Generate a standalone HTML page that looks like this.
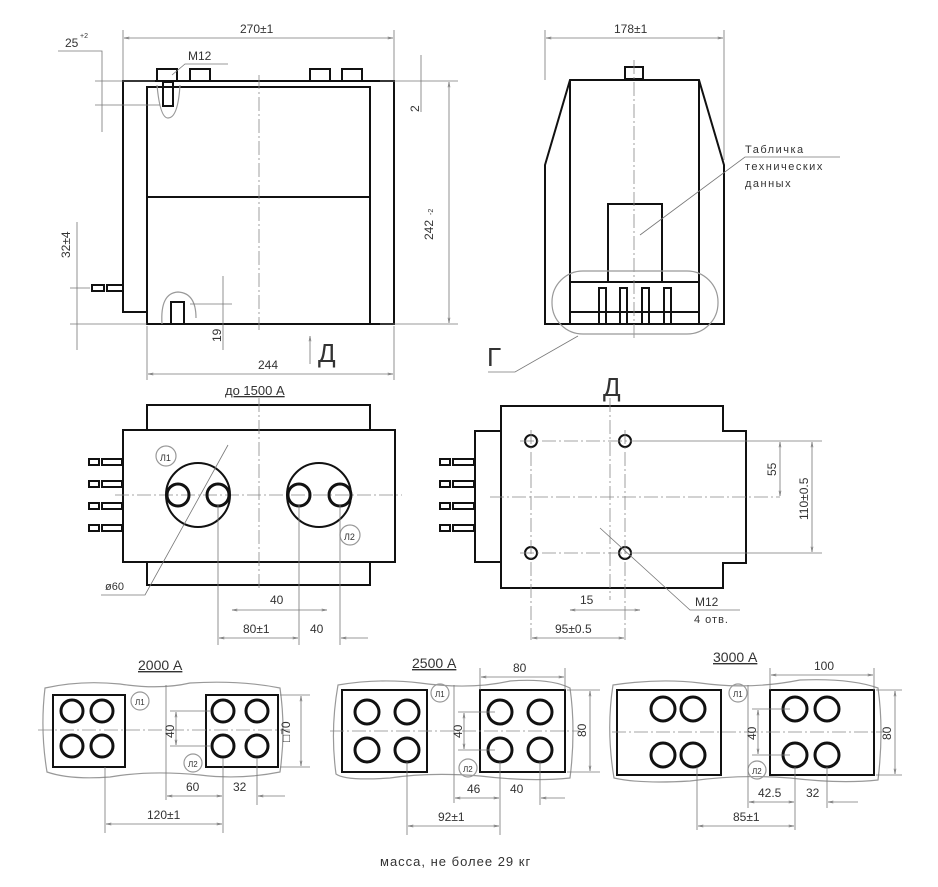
<!DOCTYPE html>
<html><head><meta charset="utf-8"><style>
html,body{margin:0;padding:0;background:#fff;}
svg{display:block;}
text{font-family:"Liberation Sans",sans-serif;fill:#333;}
.o{fill:none;stroke:#111;stroke-width:2;}
.t{fill:none;stroke:#777;stroke-width:0.8;}
.c{fill:none;stroke:#888;stroke-width:0.8;stroke-dasharray:14 3 2 3;}
.b{fill:none;stroke:#111;stroke-width:3;}
.w{fill:none;stroke:#999;stroke-width:1.2;}
</style></head><body>
<svg width="938" height="887" viewBox="0 0 938 887" xmlns="http://www.w3.org/2000/svg">
<defs>
<marker id="a" viewBox="0 0 10 6" refX="10" refY="3" markerWidth="10" markerHeight="4" orient="auto-start-reverse"><path d="M0,1 L10,3 L0,5" fill="none" stroke="#777" stroke-width="1"/></marker>
</defs>

<!-- FRONT VIEW -->
<path class="o" d="M123,81 H394 V324 H147 V312 H123 Z"/>
<path class="o" d="M147,312 V87 H370 V324"/>
<line class="o" x1="148" y1="197" x2="370" y2="197"/>
<line class="c" x1="259" y1="75" x2="259" y2="330"/>
<g class="o" stroke-width="1.5">
<rect x="157" y="69" width="20" height="12"/><rect x="190" y="69" width="20" height="12"/>
<rect x="310" y="69" width="20" height="12"/><rect x="342" y="69" width="20" height="12"/>
<rect x="163" y="82" width="10" height="24"/>
<rect x="171" y="302" width="13" height="22"/>
</g>
<path class="w" d="M157,85 Q160,118 168,118 Q178,118 180,85"/>
<path class="w" d="M162,324 Q160,293 178,292 Q196,293 196,318"/>
<g class="o" stroke-width="1.5"><rect x="92" y="285" width="12" height="6"/><rect x="107" y="285" width="16" height="6"/></g>
<!-- dims front -->
<line class="t" x1="123" y1="30" x2="123" y2="80"/><line class="t" x1="394" y1="30" x2="394" y2="80"/>
<line class="t" x1="124" y1="38" x2="393" y2="38" marker-start="url(#a)" marker-end="url(#a)"/>
<text x="240" y="33" font-size="12">270±1</text>
<text x="65" y="47" font-size="12">25</text><text x="80" y="38" font-size="7">+2</text>
<polyline class="t" points="58,51 102,51 102,132"/>
<line class="t" x1="95" y1="81" x2="155" y2="81"/><line class="t" x1="95" y1="105" x2="160" y2="105"/>
<text x="188" y="60" font-size="12">M12</text>
<polyline class="t" points="228,64 185,64 172,75"/>
<line class="t" x1="380" y1="81" x2="458" y2="81"/><line class="t" x1="380" y1="324" x2="458" y2="324"/>
<line class="t" x1="449" y1="82" x2="449" y2="323" marker-start="url(#a)" marker-end="url(#a)"/>
<text x="0" y="0" font-size="12" transform="translate(433,240) rotate(-90)">242</text><text x="0" y="0" font-size="7" transform="translate(433,215) rotate(-90)">-2</text>
<line class="t" x1="421" y1="55" x2="421" y2="112"/>
<text x="0" y="0" font-size="12" transform="translate(419,112) rotate(-90)">2</text>
<line class="t" x1="77" y1="222" x2="77" y2="350"/>
<line class="t" x1="70" y1="288" x2="90" y2="288"/>
<line class="t" x1="70" y1="324" x2="147" y2="324"/>
<text x="0" y="0" font-size="12" transform="translate(70,258) rotate(-90)">32±4</text>
<line class="t" x1="223" y1="276" x2="223" y2="350"/>
<line class="t" x1="190" y1="304" x2="232" y2="304"/>
<text x="0" y="0" font-size="12" transform="translate(221,342) rotate(-90)">19</text>
<line class="t" x1="147" y1="326" x2="147" y2="380"/><line class="t" x1="394" y1="326" x2="394" y2="380"/>
<line class="t" x1="148" y1="374" x2="393" y2="374" marker-start="url(#a)" marker-end="url(#a)"/>
<text x="258" y="369" font-size="12">244</text>
<line class="t" x1="310" y1="336" x2="310" y2="364" marker-start="url(#a)"/>
<text x="318" y="362" font-size="26">Д</text>

<!-- SIDE VIEW -->
<path class="o" d="M545,324 V165 L570,80 H699 L724,165 V324 Z"/>
<line class="o" x1="570" y1="80" x2="570" y2="324"/><line class="o" x1="699" y1="80" x2="699" y2="324"/>
<rect class="o" x="608" y="204" width="54" height="78"/>
<line class="o" x1="570" y1="282" x2="699" y2="282"/><line class="o" x1="570" y1="312" x2="699" y2="312"/>
<g class="o" stroke-width="1.5"><rect x="599" y="288" width="7" height="36"/><rect x="620" y="288" width="7" height="36"/><rect x="642" y="288" width="7" height="36"/><rect x="664" y="288" width="7" height="36"/>
<rect x="625" y="67" width="18" height="12"/></g>
<line class="c" x1="634" y1="60" x2="634" y2="340"/>
<rect class="w" x="552" y="271" width="166" height="63" rx="31"/>
<line class="t" x1="545" y1="30" x2="545" y2="80"/><line class="t" x1="724" y1="30" x2="724" y2="160"/>
<line class="t" x1="546" y1="38" x2="723" y2="38" marker-start="url(#a)" marker-end="url(#a)"/>
<text x="614" y="33" font-size="12">178±1</text>
<text x="745" y="153" font-size="11" letter-spacing="1.5">Табличка</text>
<text x="745" y="170" font-size="11" letter-spacing="1.5">технических</text>
<text x="745" y="187" font-size="11" letter-spacing="1.5">данных</text>
<polyline class="t" points="840,157 745,157 640,235"/>
<text x="487" y="366" font-size="26">Г</text>
<polyline class="t" points="488,372 515,372 578,336"/>

<!-- PLAN LEFT -->
<text x="225" y="395" font-size="13" text-decoration="underline">до 1500 А</text>
<rect class="o" x="147" y="405" width="223" height="25"/>
<rect class="o" x="123" y="430" width="272" height="132"/>
<rect class="o" x="147" y="562" width="223" height="23"/>
<line class="c" x1="259" y1="398" x2="259" y2="590"/>
<line class="c" x1="115" y1="495" x2="402" y2="495"/>
<circle class="o" cx="198" cy="495" r="32"/><circle class="o" cx="319" cy="495" r="32"/>
<g class="b"><circle cx="178" cy="495" r="11"/><circle cx="218" cy="495" r="11"/><circle cx="299" cy="495" r="11"/><circle cx="340" cy="495" r="11"/></g>
<g class="o" stroke-width="1.5">
<rect x="89" y="459" width="10" height="6"/><rect x="102" y="459" width="20" height="6"/>
<rect x="89" y="481" width="10" height="6"/><rect x="102" y="481" width="20" height="6"/>
<rect x="89" y="503" width="10" height="6"/><rect x="102" y="503" width="20" height="6"/>
<rect x="89" y="525" width="10" height="6"/><rect x="102" y="525" width="20" height="6"/></g>
<circle class="w" cx="166" cy="456" r="10"/><text x="160" y="461" font-size="9">Л1</text>
<circle class="w" cx="350" cy="535" r="10"/><text x="344" y="540" font-size="9">Л2</text>
<polyline class="t" points="101,595 145,595 228,445"/>
<text x="105" y="590" font-size="11">ø60</text>
<line class="t" x1="218" y1="505" x2="218" y2="645"/><line class="t" x1="299" y1="505" x2="299" y2="645"/><line class="t" x1="340" y1="505" x2="340" y2="645"/>
<line class="t" x1="232" y1="610" x2="327" y2="610" marker-start="url(#a)" marker-end="url(#a)"/>
<text x="270" y="604" font-size="12">40</text>
<line class="t" x1="219" y1="638" x2="298" y2="638" marker-start="url(#a)" marker-end="url(#a)"/>
<line class="t" x1="341" y1="638" x2="368" y2="638" marker-start="url(#a)"/>
<text x="243" y="633" font-size="12">80±1</text><text x="310" y="633" font-size="12">40</text>

<!-- PLAN RIGHT -->
<text x="603" y="396" font-size="26">Д</text>
<path class="o" d="M501,406 H723 V431 H746 V563 H723 V588 H501 Z"/>
<rect class="o" x="475" y="431" width="26" height="131"/>
<g class="o" stroke-width="1.5">
<rect x="440" y="459" width="10" height="6"/><rect x="453" y="459" width="21" height="6"/>
<rect x="440" y="481" width="10" height="6"/><rect x="453" y="481" width="21" height="6"/>
<rect x="440" y="503" width="10" height="6"/><rect x="453" y="503" width="21" height="6"/>
<rect x="440" y="525" width="10" height="6"/><rect x="453" y="525" width="21" height="6"/></g>
<g class="o" stroke-width="1.5"><circle cx="531" cy="441" r="6"/><circle cx="625" cy="441" r="6"/><circle cx="531" cy="553" r="6"/><circle cx="625" cy="553" r="6"/></g>
<line class="c" x1="610" y1="398" x2="610" y2="600"/>
<line class="c" x1="490" y1="497" x2="780" y2="497"/>
<line class="c" x1="520" y1="441" x2="640" y2="441"/><line class="c" x1="520" y1="553" x2="640" y2="553"/>
<line class="c" x1="531" y1="430" x2="531" y2="640"/><line class="c" x1="625" y1="430" x2="625" y2="640"/>
<line class="t" x1="640" y1="441" x2="822" y2="441"/><line class="t" x1="640" y1="553" x2="822" y2="553"/>
<line class="t" x1="780" y1="442" x2="780" y2="496" marker-start="url(#a)" marker-end="url(#a)"/>
<line class="t" x1="812" y1="442" x2="812" y2="552" marker-start="url(#a)" marker-end="url(#a)"/>
<text x="0" y="0" font-size="12" transform="translate(776,476) rotate(-90)">55</text>
<text x="0" y="0" font-size="12" transform="translate(808,520) rotate(-90)">110±0.5</text>
<polyline class="t" points="600,528 690,610 740,610"/>
<text x="695" y="606" font-size="12">M12</text><text x="694" y="623" font-size="11" letter-spacing="1">4 отв.</text>
<line class="t" x1="570" y1="610" x2="640" y2="610" marker-start="url(#a)" marker-end="url(#a)"/>
<text x="580" y="604" font-size="12">15</text>
<line class="t" x1="532" y1="638" x2="624" y2="638" marker-start="url(#a)" marker-end="url(#a)"/>
<text x="555" y="633" font-size="12">95±0.5</text>

<!-- BOTTOM ROW -->
<text x="138" y="670" font-size="14" text-decoration="underline">2000 А</text>
<text x="412" y="668" font-size="14" text-decoration="underline">2500 А</text>
<text x="713" y="662" font-size="14" text-decoration="underline">3000 А</text>
<path class="w" d="M45,688 Q80,680 120,684 Q160,690 190,683 Q240,680 280,688 Q286,730 280,772 Q240,780 200,775 Q150,770 110,777 Q70,780 47,772 Q40,730 45,688 Z"/>
<path class="w" d="M338,685 Q380,678 420,683 Q470,690 510,681 Q550,678 570,688 Q576,730 570,778 Q530,782 480,776 Q430,772 390,778 Q345,781 336,774 Q330,730 338,685 Z"/>
<path class="w" d="M613,685 Q660,678 700,683 Q750,690 800,680 Q850,678 878,688 Q884,730 878,780 Q840,784 790,778 Q740,774 690,781 Q640,784 614,778 Q606,730 613,685 Z"/>
<g class="o">
<rect x="53" y="695" width="72" height="72"/><rect x="206" y="695" width="72" height="72"/>
<rect x="342" y="690" width="85" height="82"/><rect x="480" y="690" width="85" height="82"/>
<rect x="617" y="690" width="104" height="85"/><rect x="770" y="690" width="104" height="85"/></g>
<g class="b">
<circle cx="72" cy="711" r="11"/><circle cx="102" cy="711" r="11"/><circle cx="72" cy="746" r="11"/><circle cx="102" cy="746" r="11"/>
<circle cx="223" cy="711" r="11"/><circle cx="257" cy="711" r="11"/><circle cx="223" cy="746" r="11"/><circle cx="257" cy="746" r="11"/>
<circle cx="367" cy="712" r="12"/><circle cx="407" cy="712" r="12"/><circle cx="367" cy="750" r="12"/><circle cx="407" cy="750" r="12"/>
<circle cx="500" cy="712" r="12"/><circle cx="540" cy="712" r="12"/><circle cx="500" cy="750" r="12"/><circle cx="540" cy="750" r="12"/>
<circle cx="663" cy="709" r="12"/><circle cx="693" cy="709" r="12"/><circle cx="663" cy="755" r="12"/><circle cx="693" cy="755" r="12"/>
<circle cx="795" cy="709" r="12"/><circle cx="827" cy="709" r="12"/><circle cx="795" cy="755" r="12"/><circle cx="827" cy="755" r="12"/></g>
<g class="c"><line x1="38" y1="730" x2="290" y2="730"/><line x1="330" y1="731" x2="580" y2="731"/><line x1="612" y1="732" x2="885" y2="732"/></g>
<g class="w"><circle cx="140" cy="701" r="9"/><circle cx="193" cy="763" r="9"/><circle cx="440" cy="693" r="9"/><circle cx="468" cy="768" r="9"/><circle cx="738" cy="693" r="9"/><circle cx="757" cy="770" r="9"/></g>
<text x="135" y="705" font-size="8">Л1</text><text x="188" y="767" font-size="8">Л2</text>
<text x="435" y="697" font-size="8">Л1</text><text x="463" y="772" font-size="8">Л2</text>
<text x="733" y="697" font-size="8">Л1</text><text x="752" y="774" font-size="8">Л2</text>
<!-- dims 2000 -->
<line class="t" x1="166" y1="685" x2="166" y2="800"/>
<line class="t" x1="170" y1="711" x2="210" y2="711"/><line class="t" x1="170" y1="746" x2="210" y2="746"/>
<line class="t" x1="176" y1="712" x2="176" y2="745" marker-start="url(#a)" marker-end="url(#a)"/>
<text x="0" y="0" font-size="12" transform="translate(174,738) rotate(-90)">40</text>
<line class="t" x1="280" y1="695" x2="310" y2="695"/><line class="t" x1="280" y1="767" x2="310" y2="767"/>
<line class="t" x1="301" y1="696" x2="301" y2="766" marker-start="url(#a)" marker-end="url(#a)"/>
<text x="0" y="0" font-size="12" transform="translate(290,742) rotate(-90)">□70</text>
<line class="t" x1="223" y1="758" x2="223" y2="833"/><line class="t" x1="257" y1="758" x2="257" y2="805"/><line class="t" x1="105" y1="767" x2="105" y2="833"/>
<line class="t" x1="167" y1="796" x2="222" y2="796" marker-start="url(#a)" marker-end="url(#a)"/>
<line class="t" x1="258" y1="796" x2="285" y2="796" marker-start="url(#a)"/>
<text x="186" y="791" font-size="12">60</text><text x="233" y="791" font-size="12">32</text>
<line class="t" x1="106" y1="824" x2="222" y2="824" marker-start="url(#a)" marker-end="url(#a)"/>
<text x="147" y="819" font-size="12">120±1</text>
<!-- dims 2500 -->
<line class="t" x1="454" y1="685" x2="454" y2="803"/>
<line class="t" x1="458" y1="712" x2="495" y2="712"/><line class="t" x1="458" y1="750" x2="495" y2="750"/>
<line class="t" x1="464" y1="713" x2="464" y2="749" marker-start="url(#a)" marker-end="url(#a)"/>
<text x="0" y="0" font-size="12" transform="translate(462,738) rotate(-90)">40</text>
<line class="t" x1="480" y1="668" x2="480" y2="690"/><line class="t" x1="565" y1="668" x2="565" y2="690"/>
<line class="t" x1="481" y1="677" x2="564" y2="677" marker-start="url(#a)" marker-end="url(#a)"/>
<text x="513" y="672" font-size="12">80</text>
<line class="t" x1="567" y1="690" x2="600" y2="690"/><line class="t" x1="567" y1="772" x2="600" y2="772"/>
<line class="t" x1="590" y1="691" x2="590" y2="771" marker-start="url(#a)" marker-end="url(#a)"/>
<text x="0" y="0" font-size="12" transform="translate(586,737) rotate(-90)">80</text>
<line class="t" x1="500" y1="762" x2="500" y2="835"/><line class="t" x1="540" y1="762" x2="540" y2="805"/><line class="t" x1="407" y1="762" x2="407" y2="835"/>
<line class="t" x1="455" y1="798" x2="499" y2="798" marker-start="url(#a)" marker-end="url(#a)"/>
<line class="t" x1="541" y1="798" x2="565" y2="798" marker-start="url(#a)"/>
<text x="467" y="793" font-size="12">46</text><text x="510" y="793" font-size="12">40</text>
<line class="t" x1="408" y1="826" x2="499" y2="826" marker-start="url(#a)" marker-end="url(#a)"/>
<text x="438" y="821" font-size="12">92±1</text>
<!-- dims 3000 -->
<line class="t" x1="748" y1="685" x2="748" y2="808"/>
<line class="t" x1="752" y1="709" x2="790" y2="709"/><line class="t" x1="752" y1="755" x2="790" y2="755"/>
<line class="t" x1="758" y1="710" x2="758" y2="754" marker-start="url(#a)" marker-end="url(#a)"/>
<text x="0" y="0" font-size="12" transform="translate(756,740) rotate(-90)">40</text>
<line class="t" x1="770" y1="668" x2="770" y2="690"/><line class="t" x1="874" y1="668" x2="874" y2="690"/>
<line class="t" x1="771" y1="675" x2="873" y2="675" marker-start="url(#a)" marker-end="url(#a)"/>
<text x="814" y="670" font-size="12">100</text>
<line class="t" x1="876" y1="690" x2="902" y2="690"/><line class="t" x1="876" y1="775" x2="902" y2="775"/>
<line class="t" x1="895" y1="691" x2="895" y2="774" marker-start="url(#a)" marker-end="url(#a)"/>
<text x="0" y="0" font-size="12" transform="translate(891,740) rotate(-90)">80</text>
<line class="t" x1="795" y1="767" x2="795" y2="830"/><line class="t" x1="827" y1="767" x2="827" y2="808"/><line class="t" x1="697" y1="767" x2="697" y2="830"/>
<line class="t" x1="749" y1="802" x2="794" y2="802" marker-start="url(#a)" marker-end="url(#a)"/>
<line class="t" x1="828" y1="802" x2="858" y2="802" marker-start="url(#a)"/>
<text x="758" y="797" font-size="12">42.5</text><text x="806" y="797" font-size="12">32</text>
<line class="t" x1="698" y1="826" x2="794" y2="826" marker-start="url(#a)" marker-end="url(#a)"/>
<text x="733" y="821" font-size="12">85±1</text>

<text x="380" y="866" font-size="13" letter-spacing="1">масса, не более 29 кг</text>
</svg>
</body></html>
